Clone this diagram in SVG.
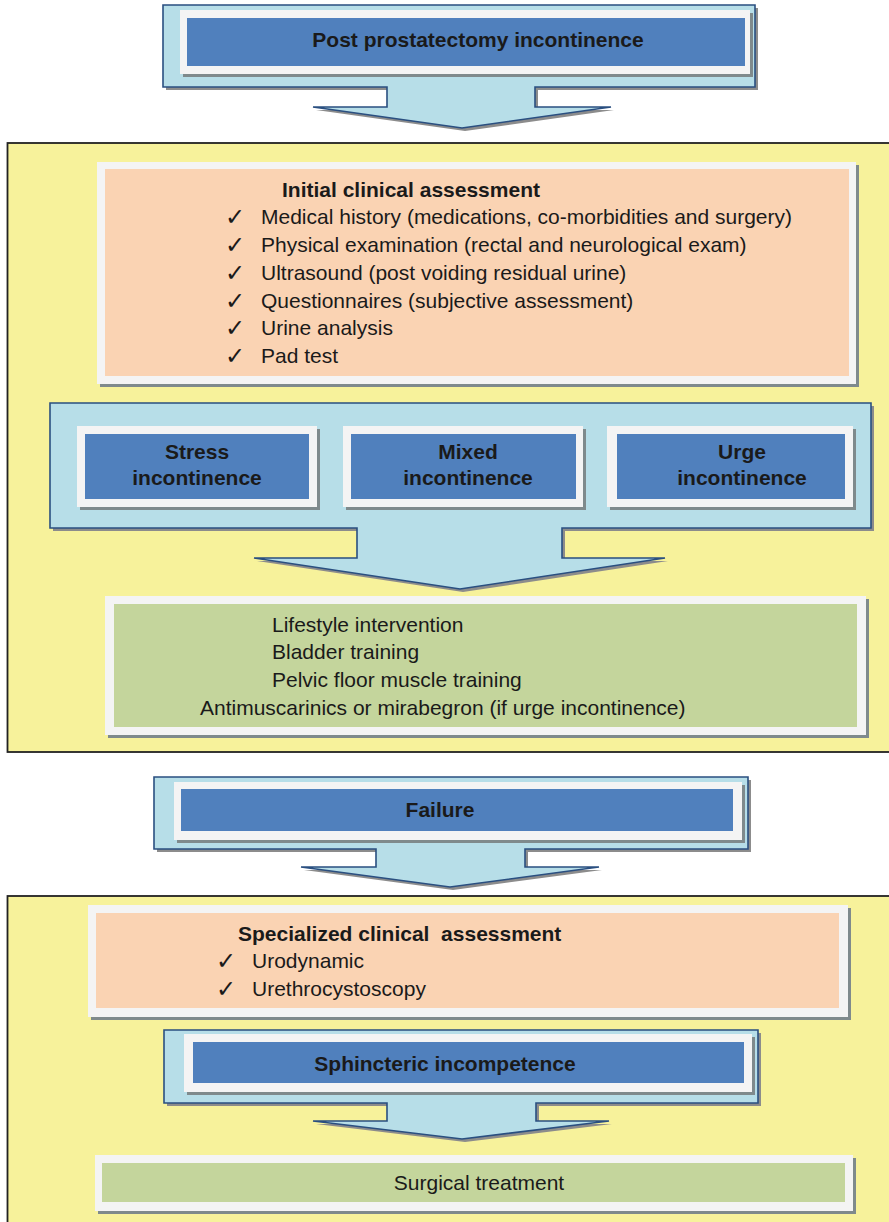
<svg xmlns="http://www.w3.org/2000/svg" width="889" height="1222" viewBox="0 0 889 1222">
<defs>
<style>
.panel{fill:#F7F29B;stroke:#222;stroke-width:1.8}
.callout{fill:#B7DEE8;stroke:#2A4F80;stroke-width:1.6;stroke-linejoin:miter}
.cshadow{fill:#8C8C8C}
.shadow{fill:#7F8A8C}
.frame{fill:#F4F4F4}
.blue{fill:#5080BD}
.peach{fill:#FAD3B3}
.green{fill:#C4D59C}
text{font-family:"Liberation Sans",Arial,sans-serif;font-size:21px;fill:#1A1A1A}
.b{font-weight:bold}
.c{text-anchor:middle}
.chk{font-family:"DejaVu Sans",sans-serif;font-size:24px;font-weight:bold}
</style>
</defs>
<rect id="panel1" class="panel" x="7.5" y="143" width="890" height="609"/>
<rect id="panel2" class="panel" x="7.5" y="896" width="890" height="340"/>

<g id="connectors">
<path class="cshadow" transform="translate(3,3)" d="M163,5 H755 V87 H535 V107 H611 L462,128 L313,107 H387 V87 H163 Z"/>
<path class="callout" d="M163,5 H755 V87 H535 V107 H611 L462,128 L313,107 H387 V87 H163 Z"/>
<path class="cshadow" transform="translate(3,3)" d="M50,403 H871 V528 H562 V558 H665 L460,589 L254,558 H357 V528 H50 Z"/>
<path class="callout" d="M50,403 H871 V528 H562 V558 H665 L460,589 L254,558 H357 V528 H50 Z"/>
<path class="cshadow" transform="translate(3,3)" d="M154,777 H748 V849 H525 V867 H599 L450,887 L301,867 H376 V849 H154 Z"/>
<path class="callout" d="M154,777 H748 V849 H525 V867 H599 L450,887 L301,867 H376 V849 H154 Z"/>
<path class="cshadow" transform="translate(3,3)" d="M164,1030 H758 V1103 H536 V1121 H609 L462,1139 L313,1121 H387 V1103 H164 Z"/>
<path class="callout" d="M164,1030 H758 V1103 H536 V1121 H609 L462,1139 L313,1121 H387 V1103 H164 Z"/>
</g>

<g id="post">
<rect class="shadow" x="183" y="13" width="570" height="64"/>
<rect class="frame" x="180" y="10" width="570" height="64"/>
<rect class="blue" x="187" y="18" width="558" height="48"/>
<text class="b c" x="478" y="47">Post prostatectomy incontinence</text>
</g>

<g id="initial">
<rect class="shadow" x="100" y="165" width="759" height="222"/>
<rect class="frame" x="97" y="162" width="759" height="222"/>
<rect class="peach" x="105" y="169" width="744" height="207"/>
<text class="b" x="282" y="197">Initial clinical assessment</text>
<text class="chk" x="225" y="225">✓</text><text x="261" y="224">Medical history (medications, co-morbidities and surgery)</text>
<text class="chk" x="225" y="253">✓</text><text x="261" y="252">Physical examination (rectal and neurological exam)</text>
<text class="chk" x="225" y="281">✓</text><text x="261" y="280">Ultrasound (post voiding residual urine)</text>
<text class="chk" x="225" y="309">✓</text><text x="261" y="308">Questionnaires (subjective assessment)</text>
<text class="chk" x="225" y="336">✓</text><text x="261" y="335">Urine analysis</text>
<text class="chk" x="225" y="364">✓</text><text x="261" y="363">Pad test</text>
</g>

<g id="stress">
<rect class="shadow" x="80" y="429" width="240" height="81"/>
<rect class="frame" x="77" y="426" width="240" height="81"/>
<rect class="blue" x="85" y="434" width="224" height="65"/>
<text class="b c" x="197" y="459">Stress</text>
<text class="b c" x="197" y="485">incontinence</text>
</g>
<g id="mixed">
<rect class="shadow" x="346" y="429" width="240" height="81"/>
<rect class="frame" x="343" y="426" width="240" height="81"/>
<rect class="blue" x="351" y="434" width="225" height="65"/>
<text class="b c" x="468" y="459">Mixed</text>
<text class="b c" x="468" y="485">incontinence</text>
</g>
<g id="urge">
<rect class="shadow" x="610" y="429" width="246" height="81"/>
<rect class="frame" x="607" y="426" width="246" height="81"/>
<rect class="blue" x="617" y="434" width="228" height="65"/>
<text class="b c" x="742" y="459">Urge</text>
<text class="b c" x="742" y="485">incontinence</text>
</g>

<g id="conservative">
<rect class="shadow" x="108" y="599" width="761" height="139"/>
<rect class="frame" x="105" y="596" width="761" height="139"/>
<rect class="green" x="114" y="604" width="743" height="123"/>
<text x="272" y="632">Lifestyle intervention</text>
<text x="272" y="659">Bladder training</text>
<text x="272" y="687">Pelvic floor muscle training</text>
<text x="200" y="715">Antimuscarinics or mirabegron (if urge incontinence)</text>
</g>

<g id="failure">
<rect class="shadow" x="177" y="785" width="568" height="58"/>
<rect class="frame" x="174" y="782" width="568" height="58"/>
<rect class="blue" x="181" y="789" width="552" height="42"/>
<text class="b c" x="440" y="817">Failure</text>
</g>

<g id="specialized">
<rect class="shadow" x="91" y="908" width="760" height="112"/>
<rect class="frame" x="88" y="905" width="760" height="112"/>
<rect class="peach" x="96" y="913" width="743" height="95"/>
<text class="b" x="238" y="941" xml:space="preserve">Specialized clinical  assessment</text>
<text class="chk" x="216" y="969">✓</text><text x="252" y="968">Urodynamic</text>
<text class="chk" x="216" y="997">✓</text><text x="252" y="996">Urethrocystoscopy</text>
</g>

<g id="sphincteric">
<rect class="shadow" x="187" y="1037" width="568" height="58"/>
<rect class="frame" x="184" y="1034" width="568" height="58"/>
<rect class="blue" x="193" y="1042" width="551" height="41"/>
<text class="b c" x="445" y="1071">Sphincteric incompetence</text>
</g>

<g id="surgical">
<rect class="shadow" x="98" y="1158" width="758" height="56"/>
<rect class="frame" x="95" y="1155" width="758" height="56"/>
<rect class="green" x="102" y="1163" width="743" height="39"/>
<text class="c" x="479" y="1190">Surgical treatment</text>
</g>
</svg>
